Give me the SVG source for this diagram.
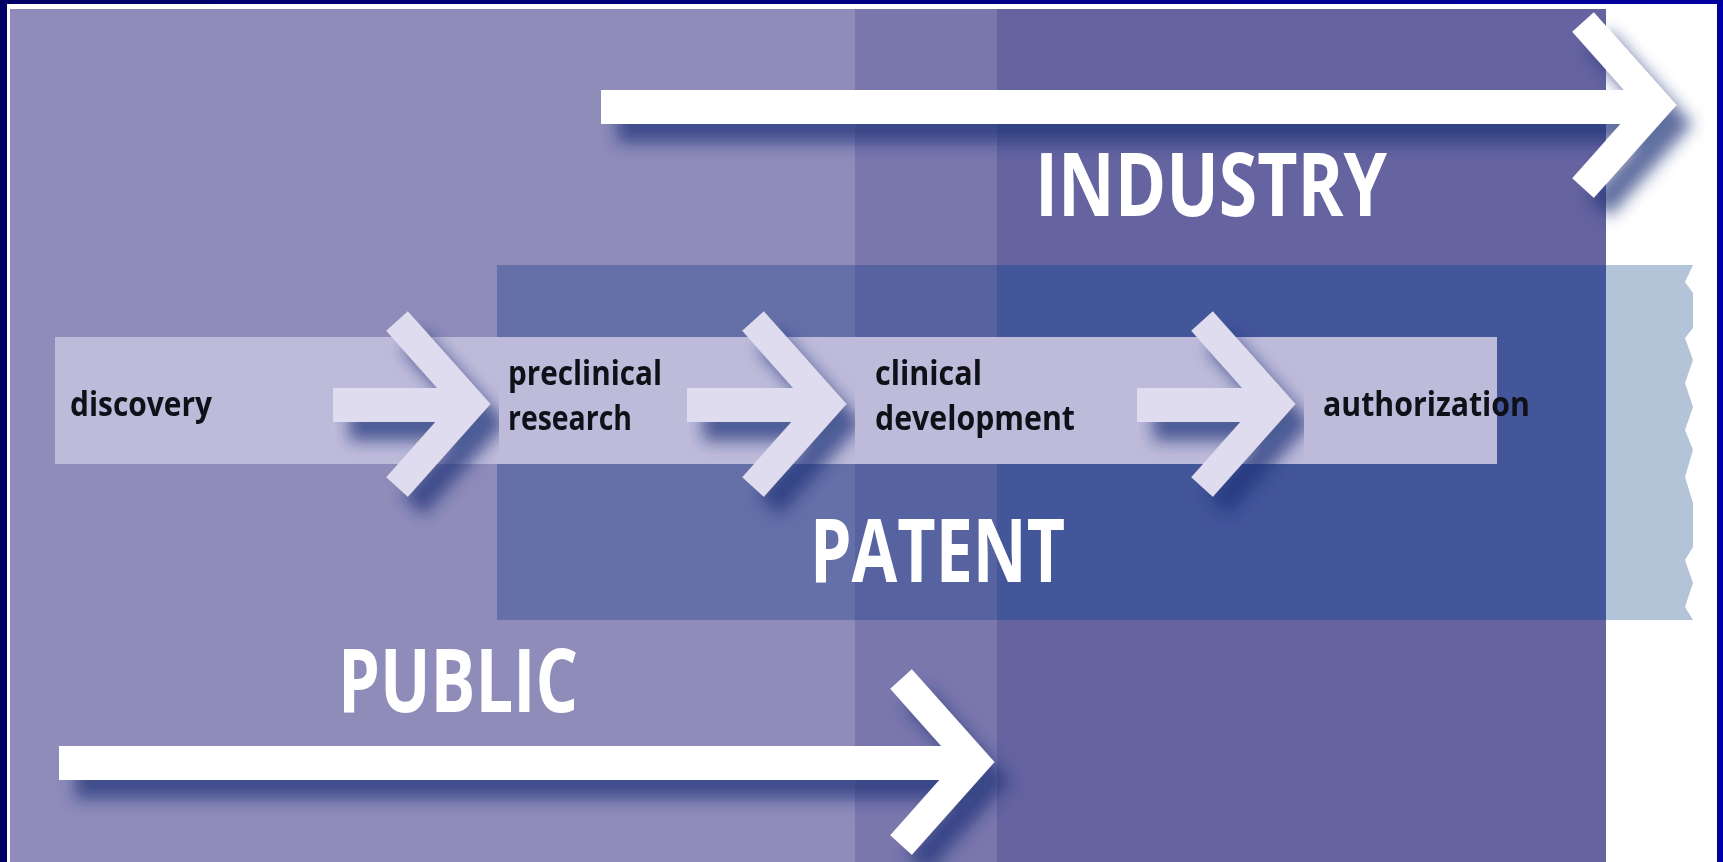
<svg xmlns="http://www.w3.org/2000/svg" width="1723" height="862" viewBox="0 0 1723 862">
<defs>
<linearGradient id="frame" x1="0" y1="0" x2="1" y2="0">
<stop offset="0" stop-color="#000066"/>
<stop offset="1" stop-color="#0000a0"/>
</linearGradient>
<filter id="sh" x="-10%" y="-40%" width="130%" height="190%">
<feGaussianBlur in="SourceAlpha" stdDeviation="8"/>
<feOffset dx="16" dy="19" result="b"/>
<feFlood flood-color="#1e3278" flood-opacity="0.7"/>
<feComposite in2="b" operator="in"/>
<feMerge><feMergeNode/><feMergeNode in="SourceGraphic"/></feMerge>
</filter>
<path id="chev" d="M-74,-83 L0,0 L-74,83" fill="none" stroke-width="29" stroke-linejoin="miter" stroke-miterlimit="6"/>
</defs>
<style>
.stage{font-family:"Open Sans","DejaVu Sans",sans-serif;font-weight:700;font-size:34px;fill:#101018}
.big{font-family:"Open Sans","DejaVu Sans",sans-serif;font-weight:700;font-size:87px;fill:#ffffff}
.wa{fill:#ffffff;stroke:#ffffff}
.sa{fill:#dedcee;stroke:#dedcee}
</style>
<rect x="0" y="0" width="1723" height="862" fill="url(#frame)"/>
<rect x="7" y="4" width="1710" height="858" fill="#ffffff"/>
<g id="public-region">
<rect x="10" y="9" width="987" height="853" fill="#8f8cba"/>
</g>
<g id="industry-region">
<rect x="855" y="9" width="751" height="853" fill="#6564a0"/>
<rect x="855" y="9" width="142" height="853" fill="#7a77ad"/>
</g>
<g id="patent-region">
<path d="M1606,265 L1693,265 L1685,282 L1693,293 L1693,328 L1685,338 L1693,360 L1685,383 L1693,407 L1685,430 L1693,450 L1685,477 L1693,503 L1693,547 L1685,560 L1693,583 L1685,607 L1693,620 L1606,620 Z" fill="#b3c4d9"/>
<rect x="497" y="265" width="358" height="355" fill="#6670a8"/>
<rect x="855" y="265" width="142" height="355" fill="#5763a1"/>
<rect x="997" y="265" width="609" height="355" fill="#44569a"/>
</g>
<g id="stage-band">
<rect x="55" y="337" width="1442" height="127" fill="#bebbda"/>
</g>
<g id="connectors">
<g id="arrow-industry" class="wa" filter="url(#sh)">
<rect x="601" y="90" width="1056" height="34" stroke="none"/>
<use href="#chev" x="1657" y="105"/>
</g>
<g id="arrow-public" class="wa" filter="url(#sh)">
<rect x="59" y="746" width="916" height="34" stroke="none"/>
<use href="#chev" x="975" y="762"/>
</g>
<g id="arrow-stage-1" class="sa" filter="url(#sh)">
<rect x="333" y="388" width="138" height="34" stroke="none"/>
<use href="#chev" x="471" y="404"/>
</g>
<g id="arrow-stage-2" class="sa" filter="url(#sh)">
<rect x="687" y="388" width="140" height="34" stroke="none"/>
<use href="#chev" x="827" y="404"/>
</g>
<g id="arrow-stage-3" class="sa" filter="url(#sh)">
<rect x="1137" y="388" width="139" height="34" stroke="none"/>
<use href="#chev" x="1276" y="404"/>
</g>
</g>
<g id="node-discovery"><text class="stage" x="70" y="416" textLength="142" lengthAdjust="spacingAndGlyphs">discovery</text></g>
<g id="node-preclinical">
<text class="stage" x="508" y="385" textLength="154" lengthAdjust="spacingAndGlyphs">preclinical</text>
<text class="stage" x="508" y="430" textLength="124" lengthAdjust="spacingAndGlyphs">research</text>
</g>
<g id="node-clinical">
<text class="stage" x="875" y="385" textLength="107" lengthAdjust="spacingAndGlyphs">clinical</text>
<text class="stage" x="875" y="430" textLength="200" lengthAdjust="spacingAndGlyphs">development</text>
</g>
<g id="node-authorization"><text class="stage" x="1323" y="416" textLength="207" lengthAdjust="spacingAndGlyphs">authorization</text></g>
<g id="label-industry"><text class="big" x="1035" y="216" textLength="352" lengthAdjust="spacingAndGlyphs">INDUSTRY</text></g>
<g id="label-patent"><text class="big" x="810" y="582" textLength="255" lengthAdjust="spacingAndGlyphs">PATENT</text></g>
<g id="label-public"><text class="big" x="338" y="712" textLength="240" lengthAdjust="spacingAndGlyphs">PUBLIC</text></g>
</svg>
